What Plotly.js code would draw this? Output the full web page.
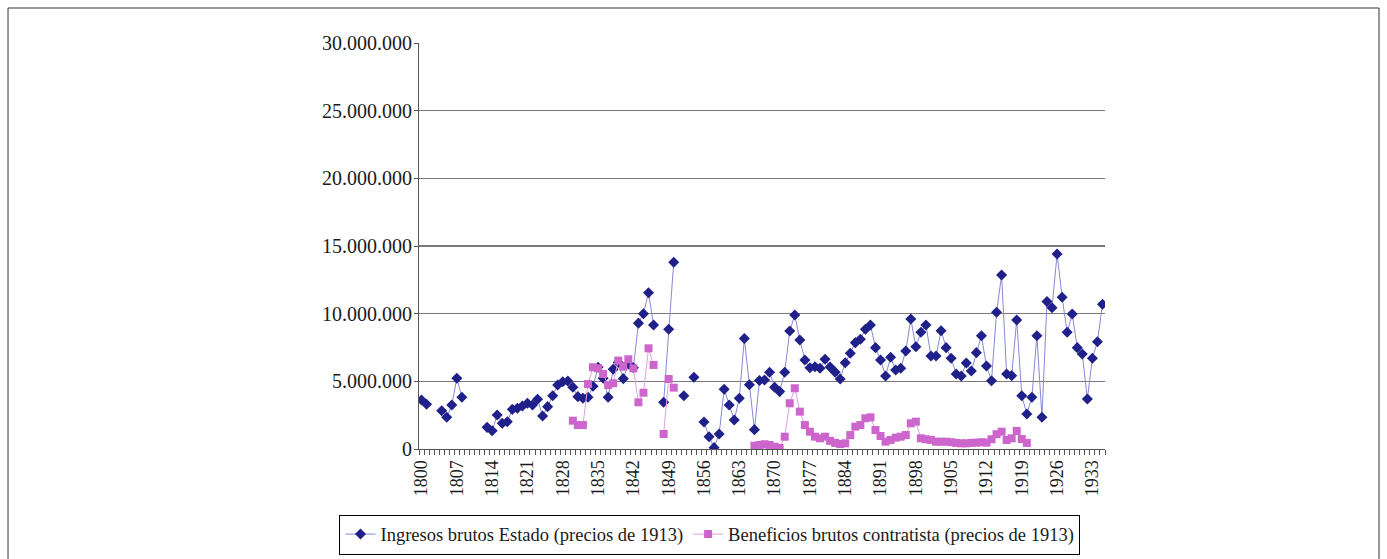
<!DOCTYPE html>
<html>
<head>
<meta charset="utf-8">
<script src="https://cdn.plot.ly/plotly-3.0.1.min.js"></script>
<style>
html,body{margin:0;padding:0;background:#fff;}
#chart{width:1387px;height:559px;}
</style>
</head>
<body>
<div id="chart"></div>
<script>
// Categories: years 1800..1935
const years = Array.from({length: 136}, (_, i) => 1800 + i);

// Ingresos brutos Estado (precios de 1913), millions
const ingresosMill = [
  3.62, 3.30, null, null, 2.83, 2.34, 3.25, 5.23, 3.82, null,   // 1800-1809
  null, null, null, 1.60, 1.35, 2.51, 1.90, 2.02, 2.93, 3.01,   // 1810-1819
  3.18, 3.38, 3.25, 3.67, 2.44, 3.13, 3.94, 4.73, 4.97, 5.03,   // 1820-1829
  4.56, 3.87, 3.75, 3.82, 4.63, 6.04, 5.23, 3.82, 5.89, 6.40,   // 1830-1839
  5.20, 6.28, 6.00, 9.30, 10.00, 11.55, 9.16, null, 3.45, 8.85, // 1840-1849
  13.80, null, 3.94, null, 5.30, null, 2.00, 0.91, 0.10, 1.11,  // 1850-1859
  4.41, 3.25, 2.14, 3.75, 8.16, 4.75, 1.43, 5.06, 5.10, 5.67,   // 1860-1869
  4.56, 4.24, 5.67, 8.72, 9.90, 8.06, 6.58, 6.01, 6.08, 5.96,   // 1870-1879
  6.63, 6.06, 5.68, 5.17, 6.38, 7.07, 7.86, 8.11, 8.85, 9.16,   // 1880-1889
  7.49, 6.58, 5.40, 6.78, 5.84, 5.96, 7.24, 9.61, 7.56, 8.63,   // 1890-1899
  9.16, 6.87, 6.87, 8.74, 7.49, 6.70, 5.54, 5.40, 6.35, 5.76,   // 1900-1909
  7.12, 8.37, 6.13, 5.05, 10.10, 12.86, 5.54, 5.42, 9.53, 3.94, // 1910-1919
  2.59, 3.82, 8.37, 2.34, 10.89, 10.44, 14.41, 11.21, 8.62, 9.98, // 1920-1929
  7.49, 7.02, 3.70, 6.70, 7.93, 10.69                           // 1930-1935
];

// Beneficios brutos contratista (precios de 1913), millions
const beneficiosMill = [
  null, null, null, null, null, null, null, null, null, null,   // 1800-1809
  null, null, null, null, null, null, null, null, null, null,   // 1810-1819
  null, null, null, null, null, null, null, null, null, null,   // 1820-1829
  2.09, 1.77, 1.77, 4.80, 6.04, 5.96, 5.54, 4.73, 4.86, 6.53,   // 1830-1839
  6.08, 6.63, 5.96, 3.45, 4.16, 7.44, 6.21, null, 1.11, 5.17,   // 1840-1849
  4.53, null, null, null, null, null, null, null, null, null,   // 1850-1859
  null, null, null, null, null, null, 0.24, 0.30, 0.35, 0.30,   // 1860-1869
  0.17, 0.08, 0.91, 3.38, 4.49, 2.76, 1.77, 1.28, 0.91, 0.79,   // 1870-1879
  0.91, 0.60, 0.45, 0.37, 0.42, 1.03, 1.65, 1.77, 2.27, 2.34,   // 1880-1889
  1.40, 0.96, 0.54, 0.67, 0.84, 0.91, 1.03, 1.90, 2.02, 0.79,   // 1890-1899
  0.72, 0.67, 0.54, 0.54, 0.54, 0.50, 0.45, 0.42, 0.42, 0.45,   // 1900-1909
  0.47, 0.50, 0.47, 0.72, 1.09, 1.28, 0.67, 0.79, 1.33, 0.74,   // 1910-1919
  0.45, null, null, null, null, null, null, null, null, null,   // 1920-1929
  null, null, null, null, null, null                            // 1930-1935
];

const xTickYears = [1800,1807,1814,1821,1828,1835,1842,1849,1856,1863,1870,1877,1884,1891,1898,1905,1912,1919,1926,1933];
const xTickLabels = ['1800','1807','1814','1821','1828','1835','1842','1849','1856','1863','1870','1877','1884','1891','1898','1905','1912','1919','1926','1933'];
const yTickVals = [0, 5000000, 10000000, 15000000, 20000000, 25000000, 30000000];
const yTickLabels = ['0','5.000.000','10.000.000','15.000.000','20.000.000','25.000.000','30.000.000'];

const toUnits = a => a.map(v => v === null ? null : v * 1e6);

const serif = 'Liberation Serif, Times New Roman, serif';

const traces = [
  {
    x: years, y: toUnits(ingresosMill),
    name: 'Ingresos brutos Estado (precios de 1913)',
    type: 'scatter', mode: 'lines+markers', connectgaps: false,
    line: {color: '#8888d6', width: 1},
    marker: {symbol: 'diamond', size: 8.5, color: '#20208a', line: {width: 0}}
  },
  {
    x: years, y: toUnits(beneficiosMill),
    name: 'Beneficios brutos contratista (precios de 1913)',
    type: 'scatter', mode: 'lines+markers', connectgaps: false,
    line: {color: '#e0a0e0', width: 1},
    marker: {symbol: 'square', size: 8, color: '#cc66cc', line: {width: 0}}
  }
];

const layout = {
  width: 1387, height: 559,
  margin: {l: 419, r: 282, t: 43, b: 110, autoexpand: false},
  paper_bgcolor: '#ffffff', plot_bgcolor: '#ffffff',
  font: {family: serif, size: 18, color: '#1a1a1a'},
  showlegend: true,
  legend: {
    orientation: 'h',
    x: -0.1159, xanchor: 'left', y: -0.26, yanchor: 'bottom',
    bordercolor: '#000000', borderwidth: 1, bgcolor: '#ffffff',
    font: {family: serif, size: 18.5, color: '#1a1a1a'}
  },
  xaxis: {
    type: 'linear', range: [1799.5, 1935.5], fixedrange: true,
    tickmode: 'array', tickvals: xTickYears, ticktext: xTickLabels,
    tickangle: -90, ticks: '', showgrid: false, zeroline: false,
    showline: true, linecolor: '#555555', linewidth: 1,
    tickfont: {family: serif, size: 18, color: '#1a1a1a'},
    ticklabelstandoff: 3,
    minor: {tickmode: 'linear', tick0: 1799.5, dtick: 1, ticks: 'outside', ticklen: 5, tickcolor: '#555555', tickwidth: 1, showgrid: false}
  },
  yaxis: {
    range: [0, 30000000], fixedrange: true,
    tickmode: 'array', tickvals: yTickVals, ticktext: yTickLabels,
    ticks: 'outside', ticklen: 4, tickcolor: '#555555',
    ticklabelstandoff: -2,
    showgrid: true, gridcolor: '#7a7a7a', gridwidth: 1.4, zeroline: false,
    showline: true, linecolor: '#555555', linewidth: 1,
    tickfont: {family: serif, size: 20, color: '#1a1a1a'}
  },
  shapes: [
    {type: 'rect', xref: 'paper', yref: 'paper', x0: -0.5991, x1: 1.3994, y0: -0.28, y1: 1.0862,
     line: {color: '#333333', width: 1}, fillcolor: 'rgba(0,0,0,0)', layer: 'below'}
  ]
};

Plotly.newPlot('chart', traces, layout, {displayModeBar: false, staticPlot: true});
</script>
</body>
</html>
